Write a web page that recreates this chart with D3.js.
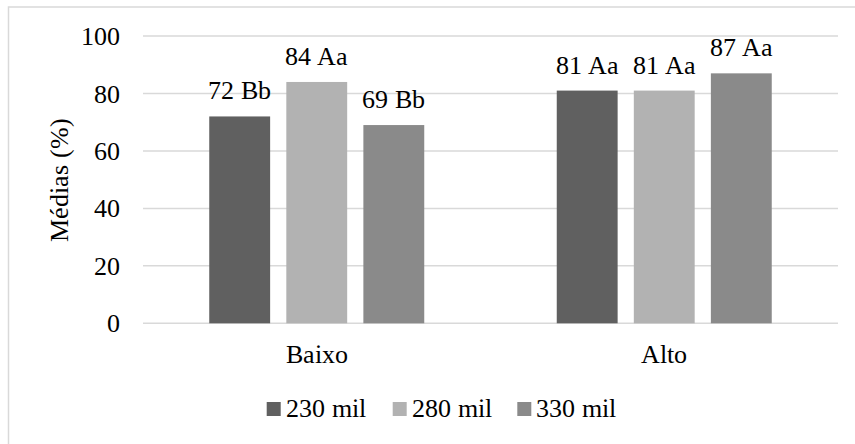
<!DOCTYPE html>
<html>
<head>
<meta charset="utf-8">
<script src="https://cdn.jsdelivr.net/npm/d3@7"></script>
<style>
  @font-face { font-family: 'ChartSerif'; src: local('Liberation Serif'), local('LiberationSerif'), local('FreeSerif'); }
  body { margin: 0; }
</style>
</head>
<body>
<svg id="fig" width="855" height="444" style="font-family: 'ChartSerif', 'Liberation Serif', 'FreeSerif'"></svg>
<script>
// Categories, series and values
const categories = ["Baixo", "Alto"];
const seriesNames = ["230 mil", "280 mil", "330 mil"];
const seriesColors = ["#606060", "#b2b2b2", "#8a8a8a"];
const values230 = [72, 81];
const values280 = [84, 81];
const values330 = [69, 87];
const letters230 = ["Bb", "Aa"];
const letters280 = ["Aa", "Aa"];
const letters330 = ["Bb", "Aa"];
const yTicks = [0, 20, 40, 60, 80, 100];

const seriesValues = [values230, values280, values330];
const seriesLetters = [letters230, letters280, letters330];

const FONT = "'ChartSerif', 'Liberation Serif', 'FreeSerif'";
const FS = 26;

const svg = d3.select("#fig");
const W = 855, H = 444;
const plot = { left: 143, right: 838, top: 36, bottom: 323.3 };

// Chart area outline
svg.append("rect")
  .attr("x", 8.5).attr("y", 7)
  .attr("width", W).attr("height", H)
  .attr("fill", "#fff")
  .attr("stroke", "#d9d9d9").attr("stroke-width", 1.5);

const y = d3.scaleLinear().domain([0, 100]).range([plot.bottom, plot.top]);
const x0 = d3.scaleBand().domain(categories).range([plot.left, plot.right]).padding(0);
const groupW = 215;
const x1 = d3.scaleBand().domain(seriesNames)
  .range([(x0.bandwidth() - groupW) / 2, (x0.bandwidth() + groupW) / 2])
  .paddingInner(0.21).paddingOuter(0);

// Gridlines
svg.append("g").selectAll("line").data(yTicks).join("line")
  .attr("x1", plot.left).attr("x2", plot.right)
  .attr("y1", d => y(d)).attr("y2", d => y(d))
  .attr("stroke", "#d9d9d9").attr("stroke-width", 1.5);

// Y axis tick labels
const yAxis = d3.axisLeft(y).tickValues(yTicks).tickSize(0).tickPadding(0);
const yg = svg.append("g").attr("transform", "translate(120,0)").call(yAxis)
  .attr("font-family", null).attr("font-size", null);
yg.select(".domain").remove();
yg.selectAll("text")
  .style("font-family", FONT)
  .attr("font-size", FS)
  .attr("fill", "#000")
  .attr("dy", "0.33em");

// Y axis title
svg.append("text")
  .attr("transform", `translate(68,${(plot.top + plot.bottom) / 2}) rotate(-90)`)
  .attr("text-anchor", "middle")
  .style("font-family", FONT)
  .attr("font-size", FS)
  .text("Médias (%)");

// Bars and value labels
const rows = [];
categories.forEach((c, ci) => {
  seriesNames.forEach((s, si) => {
    rows.push({ cat: c, series: s, si, value: seriesValues[si][ci], letter: seriesLetters[si][ci] });
  });
});

svg.append("g").selectAll("rect").data(rows).join("rect")
  .attr("x", d => x0(d.cat) + x1(d.series))
  .attr("y", d => y(d.value))
  .attr("width", x1.bandwidth())
  .attr("height", d => y(0) - y(d.value))
  .attr("fill", d => seriesColors[d.si]);

svg.append("g").selectAll("text").data(rows).join("text")
  .attr("x", d => x0(d.cat) + x1(d.series) + x1.bandwidth() / 2)
  .attr("y", d => y(d.value) - 17)
  .attr("text-anchor", "middle")
  .style("font-family", FONT)
  .attr("font-size", FS)
  .text(d => `${d.value} ${d.letter}`);

// Category labels
svg.append("g").selectAll("text").data(categories).join("text")
  .attr("x", d => x0(d) + x0.bandwidth() / 2)
  .attr("y", 363)
  .attr("text-anchor", "middle")
  .style("font-family", FONT)
  .attr("font-size", FS)
  .text(d => d);

// Legend
const legendX = [266.7, 392.7, 517.3];
const lg = svg.append("g").selectAll("g").data(seriesNames).join("g")
  .attr("transform", (d, i) => `translate(${legendX[i]},0)`);
lg.append("rect")
  .attr("x", 0).attr("y", 402)
  .attr("width", 14).attr("height", 14)
  .attr("fill", (d, i) => seriesColors[i]);
lg.append("text")
  .attr("x", 19).attr("y", 417)
  .style("font-family", FONT)
  .attr("font-size", FS)
  .text(d => d);
</script>
</body>
</html>
